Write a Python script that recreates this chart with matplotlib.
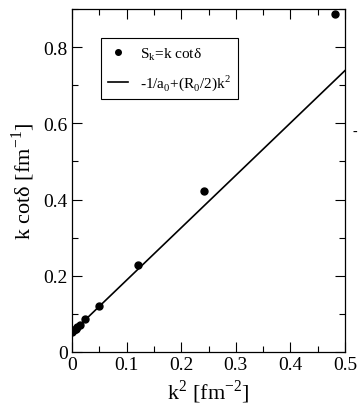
import numpy as np
import matplotlib.pyplot as plt
from matplotlib.ticker import MultipleLocator

plt.rcParams['font.family'] = ['Liberation Serif', 'DejaVu Serif']
plt.rcParams['mathtext.fontset'] = 'custom'
plt.rcParams['mathtext.rm'] = 'Liberation Serif'

# k^2 [fm^-2] and k cot(delta) [fm^-1]
k2 = [0.0, 0.003, 0.0067, 0.010, 0.014, 0.0244, 0.0489, 0.121, 0.2414, 0.4817]
kcot = [0.0526, 0.057, 0.061, 0.066, 0.070, 0.0859, 0.120, 0.2278, 0.4232, 0.8876]

# effective range fit: -1/a0 + (R0/2) k^2
inv_a0 = 0.051
half_R0 = 1.375
k2_fit = [0.0, 0.5]

xticks = [0, 0.1, 0.2, 0.3, 0.4, 0.5]
xticklabels = ['0', '0.1', '0.2', '0.3', '0.4', '0.5']
yticks = [0, 0.2, 0.4, 0.6, 0.8]
yticklabels = ['0', '0.2', '0.4', '0.6', '0.8']

fig = plt.figure(figsize=(3.58, 4.06), dpi=100)
ax = fig.add_axes([72 / 358, 1 - 353 / 406, 273 / 358, 343 / 406])

fit = [inv_a0 + half_R0 * x for x in k2_fit]
ax.plot(k2_fit, fit, color='black', lw=1.2, label=r'-1/a$_\mathrm{0}$+(R$_\mathrm{0}$/2)k$^\mathrm{2}$')
ax.plot(k2, kcot, 'o', color='black', ms=5, ls='none', label='S$_\\mathrm{k}$=k cotδ')

ax.set_xlim(0, 0.5)
ax.set_ylim(0, 0.9)
ax.set_xticks(xticks)
ax.set_xticklabels(xticklabels)
ax.set_yticks(yticks)
ax.set_yticklabels(yticklabels)
ax.xaxis.set_minor_locator(MultipleLocator(0.05))
ax.yaxis.set_minor_locator(MultipleLocator(0.1))
ax.tick_params(which='both', direction='in', top=True, right=True, labelsize=14, width=0.8)
ax.tick_params(which='major', length=7, pad=3)
ax.tick_params(which='minor', length=4)
for s in ax.spines.values():
    s.set_linewidth(0.9)

ax.set_xlabel('k$^\\mathrm{2}$ [fm$^\\mathrm{-2}$]', fontsize=16, labelpad=3)
ax.set_ylabel('k cotδ [fm$^\\mathrm{-1}$]', fontsize=16, labelpad=5)

h, l = ax.get_legend_handles_labels()
leg = ax.legend(h[::-1], l[::-1], loc='upper left', bbox_to_anchor=(0.108, 0.915),
                fontsize=11, frameon=True, fancybox=False, edgecolor='black',
                framealpha=1, handlelength=1.3, handletextpad=0.8, borderpad=0.45,
                labelspacing=0.7, borderaxespad=0)
leg.get_frame().set_linewidth(0.8)
leg.legend_handles[0].set_markersize(4)

fig.text(0.992, 0.675, '-', fontsize=10, ha='center', va='center')

fig.savefig('out.png', dpi=100)
